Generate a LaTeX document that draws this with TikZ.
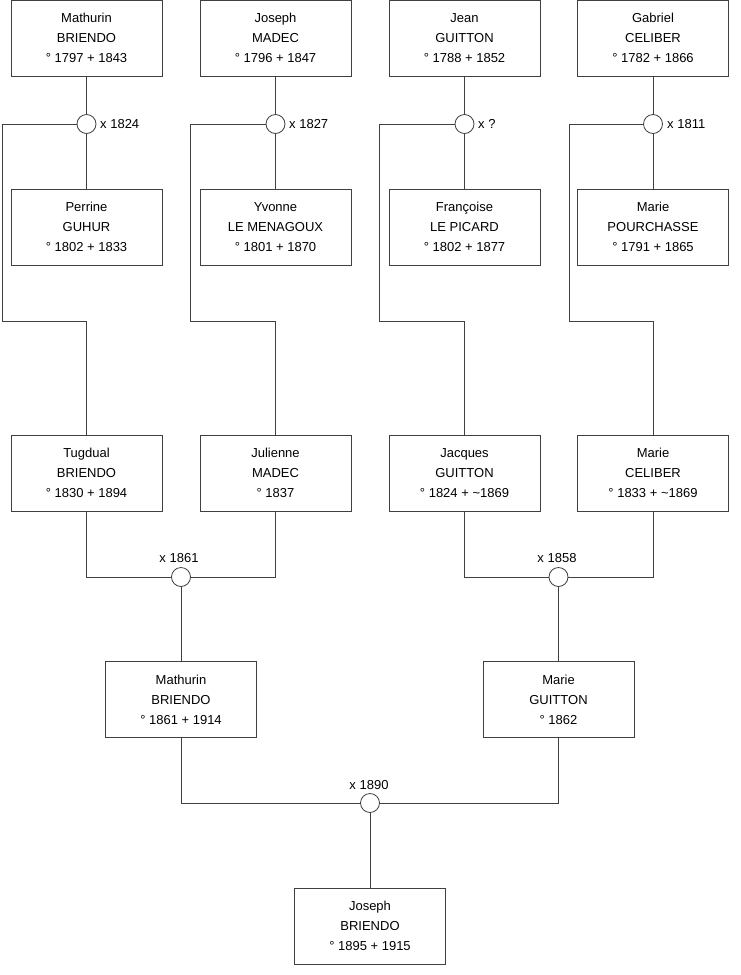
\documentclass[tikz,border=0pt]{standalone}
\usepackage{fontspec}
\setmainfont{Liberation Sans}
\begin{document}
\begin{tikzpicture}[x=1pt,y=-1pt,
  person/.style={draw=black!75, line width=0.8pt, fill=white, minimum width=151pt, minimum height=76pt, inner sep=0pt, align=center, font=\fontsize{13}{20}\selectfont},
  union/.style={draw=black!75, line width=0.8pt, fill=white, circle, minimum size=19pt, inner sep=0pt},
  link/.style={draw=black!75, line width=0.8pt},
  lbl/.style={font=\fontsize{13}{15}\selectfont, inner sep=0pt}]
\useasboundingbox (0,0) rectangle (740,975);
% top row
\node[person] (p1) at (86.5,38) {Mathurin\\BRIENDO\\° 1797 + 1843};
\node[person] (p2) at (275.5,38) {Joseph\\MADEC\\° 1796 + 1847};
\node[person] (p3) at (464.5,38) {Jean\\GUITTON\\° 1788 + 1852};
\node[person] (p4) at (653,38) {Gabriel\\CELIBER\\° 1782 + 1866};
% second row
\node[person] (s1) at (86.5,227) {Perrine\\GUHUR\\° 1802 + 1833};
\node[person] (s2) at (275.5,227) {Yvonne\\LE MENAGOUX\\° 1801 + 1870};
\node[person] (s3) at (464.5,227) {Françoise\\LE PICARD\\° 1802 + 1877};
\node[person] (s4) at (653,227) {Marie\\POURCHASSE\\° 1791 + 1865};
% third row
\node[person] (c1) at (86.5,473) {Tugdual\\BRIENDO\\° 1830 + 1894};
\node[person] (c2) at (275.5,473) {Julienne\\MADEC\\° 1837};
\node[person] (c3) at (464.5,473) {Jacques\\GUITTON\\° 1824 + \textasciitilde1869};
\node[person] (c4) at (653,473) {Marie\\CELIBER\\° 1833 + \textasciitilde1869};
% fourth row
\node[person] (g1) at (181,699.5) {Mathurin\\BRIENDO\\° 1861 + 1914};
\node[person] (g2) at (558.5,699.5) {Marie\\GUITTON\\° 1862};
% bottom
\node[person] (j) at (370,926) {Joseph\\BRIENDO\\° 1895 + 1915};
% unions
\node[union] (m1) at (86.5,124) {};
\node[union] (m2) at (275.5,124) {};
\node[union] (m3) at (464.5,124) {};
\node[union] (m4) at (653,124) {};
\node[union] (m5) at (181,577) {};
\node[union] (m6) at (558.5,577) {};
\node[union] (m7) at (370,803) {};
% union labels
\node[lbl, anchor=west] (l1) at (100,124) {x 1824};
\node[lbl, anchor=west] (l2) at (289,124) {x 1827};
\node[lbl, anchor=west] (l3) at (478,124) {x ?};
\node[lbl, anchor=west] (l4) at (667,124) {x 1811};
\node[lbl] (l5) at (179,558) {x 1861};
\node[lbl] (l6) at (557,558) {x 1858};
\node[lbl] (l7) at (369,785) {x 1890};
% coordinates
\coordinate (k1a) at (2,124);   \coordinate (k1b) at (2,321);   \coordinate (k1c) at (86.5,321);
\coordinate (k2a) at (190,124); \coordinate (k2b) at (190,321); \coordinate (k2c) at (275.5,321);
\coordinate (k3a) at (379,124); \coordinate (k3b) at (379,321); \coordinate (k3c) at (464.5,321);
\coordinate (k4a) at (569,124); \coordinate (k4b) at (569,321); \coordinate (k4c) at (653,321);
\coordinate (k5a) at (86.5,577); \coordinate (k5b) at (275.5,577);
\coordinate (k6a) at (464.5,577); \coordinate (k6b) at (653,577);
\coordinate (k7a) at (181,803); \coordinate (k7b) at (558.5,803);
% links
\draw[link] (p1) -- (m1) -- (s1);
\draw[link] (p2) -- (m2) -- (s2);
\draw[link] (p3) -- (m3) -- (s3);
\draw[link] (p4) -- (m4) -- (s4);
\draw[link] (m1.west) -- (k1a) -- (k1b) -- (k1c) -- (c1.north);
\draw[link] (m2.west) -- (k2a) -- (k2b) -- (k2c) -- (c2.north);
\draw[link] (m3.west) -- (k3a) -- (k3b) -- (k3c) -- (c3.north);
\draw[link] (m4.west) -- (k4a) -- (k4b) -- (k4c) -- (c4.north);
\draw[link] (c1.south) -- (k5a) -- (m5.west);
\draw[link] (c2.south) -- (k5b) -- (m5.east);
\draw[link] (m5) -- (g1);
\draw[link] (c3.south) -- (k6a) -- (m6.west);
\draw[link] (c4.south) -- (k6b) -- (m6.east);
\draw[link] (m6) -- (g2);
\draw[link] (g1.south) -- (k7a) -- (m7.west);
\draw[link] (g2.south) -- (k7b) -- (m7.east);
\draw[link] (m7) -- (j);
\end{tikzpicture}
\end{document}
